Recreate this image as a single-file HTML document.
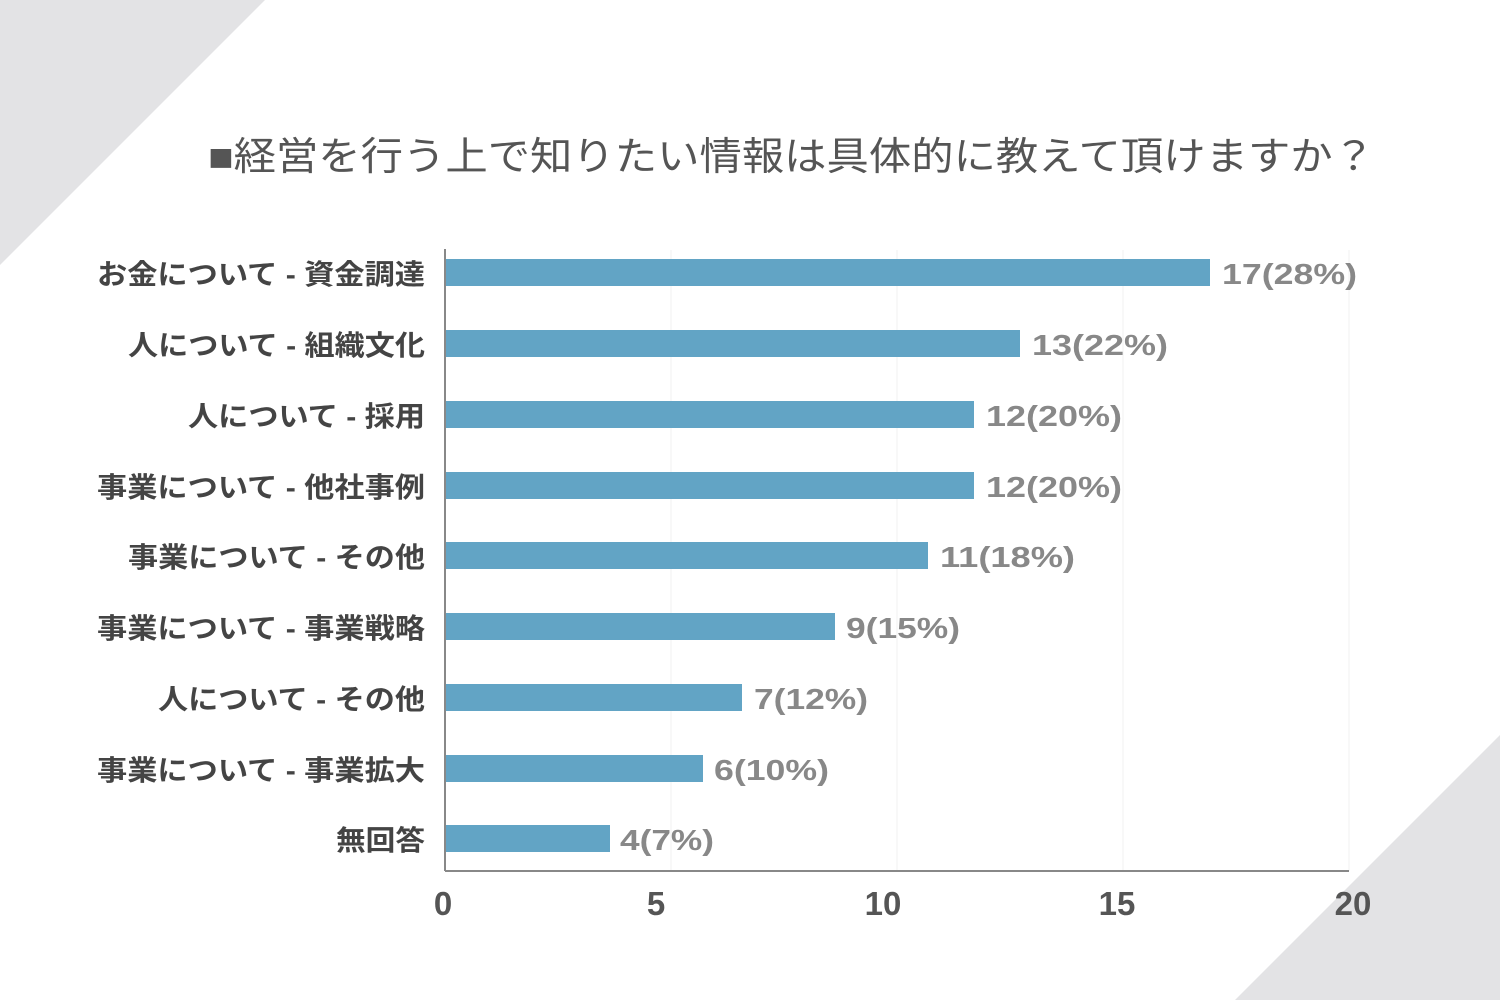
<!DOCTYPE html>
<html><head><meta charset="utf-8"><style>
body{margin:0;width:1500px;height:1000px;background:#fff;overflow:hidden}
svg text{font-family:"Liberation Sans","Noto Sans CJK JP",sans-serif}
</style></head><body>
<svg width="1500" height="1000" xmlns="http://www.w3.org/2000/svg">
<polygon points="0,0 265,0 0,265" fill="#e3e3e5"/>
<polygon points="1500,735 1500,1000 1235,1000" fill="#e3e3e5"/>
<text x="208" y="170" font-size="39" fill="#555" textLength="1167" lengthAdjust="spacingAndGlyphs">■経営を行う上で知りたい情報は具体的に教えて頂けますか？</text>
<g stroke="#f0f0f0" stroke-width="1">
<line x1="671" y1="250" x2="671" y2="871"/><line x1="897" y1="250" x2="897" y2="871"/><line x1="1123" y1="250" x2="1123" y2="871"/><line x1="1349" y1="250" x2="1349" y2="871"/>
</g>
<line x1="445" y1="249" x2="445" y2="871" stroke="#888" stroke-width="2"/>
<line x1="445" y1="871" x2="1349" y2="871" stroke="#888" stroke-width="2"/>
<g fill="#62a4c5">
<rect x="446" y="259" width="764" height="27"/>
<rect x="446" y="330" width="574" height="27"/>
<rect x="446" y="401" width="528" height="27"/>
<rect x="446" y="472" width="528" height="27"/>
<rect x="446" y="542" width="482" height="27"/>
<rect x="446" y="613" width="389" height="27"/>
<rect x="446" y="684" width="296" height="27"/>
<rect x="446" y="755" width="257" height="27"/>
<rect x="446" y="825" width="164" height="27"/>
</g>
<g font-size="29" font-weight="bold" fill="#888">
<text x="1222" y="284" textLength="135" lengthAdjust="spacingAndGlyphs">17(28%)</text>
<text x="1032" y="355" textLength="136" lengthAdjust="spacingAndGlyphs">13(22%)</text>
<text x="986" y="426" textLength="136" lengthAdjust="spacingAndGlyphs">12(20%)</text>
<text x="986" y="497" textLength="136" lengthAdjust="spacingAndGlyphs">12(20%)</text>
<text x="940" y="567" textLength="135" lengthAdjust="spacingAndGlyphs">11(18%)</text>
<text x="846" y="638" textLength="114" lengthAdjust="spacingAndGlyphs">9(15%)</text>
<text x="754" y="709" textLength="114" lengthAdjust="spacingAndGlyphs">7(12%)</text>
<text x="714" y="780" textLength="115" lengthAdjust="spacingAndGlyphs">6(10%)</text>
<text x="620" y="850" textLength="94" lengthAdjust="spacingAndGlyphs">4(7%)</text>
</g>
<g font-size="28" font-weight="bold" fill="#444">
<text x="97" y="284" textLength="328" lengthAdjust="spacingAndGlyphs">お金について - 資金調達</text>
<text x="128" y="355" textLength="297" lengthAdjust="spacingAndGlyphs">人について - 組織文化</text>
<text x="188" y="426" textLength="237" lengthAdjust="spacingAndGlyphs">人について - 採用</text>
<text x="97" y="497" textLength="328" lengthAdjust="spacingAndGlyphs">事業について - 他社事例</text>
<text x="128" y="567" textLength="297" lengthAdjust="spacingAndGlyphs">事業について - その他</text>
<text x="97" y="638" textLength="328" lengthAdjust="spacingAndGlyphs">事業について - 事業戦略</text>
<text x="158" y="709" textLength="267" lengthAdjust="spacingAndGlyphs">人について - その他</text>
<text x="97" y="780" textLength="328" lengthAdjust="spacingAndGlyphs">事業について - 事業拡大</text>
<text x="336" y="850" textLength="89" lengthAdjust="spacingAndGlyphs">無回答</text>
</g>
<g font-size="33" font-weight="bold" fill="#555" text-anchor="middle">
<text x="443" y="915">0</text><text x="656" y="915">5</text><text x="883" y="915">10</text><text x="1117" y="915">15</text><text x="1353" y="915">20</text>
</g>
</svg>
</body></html>
